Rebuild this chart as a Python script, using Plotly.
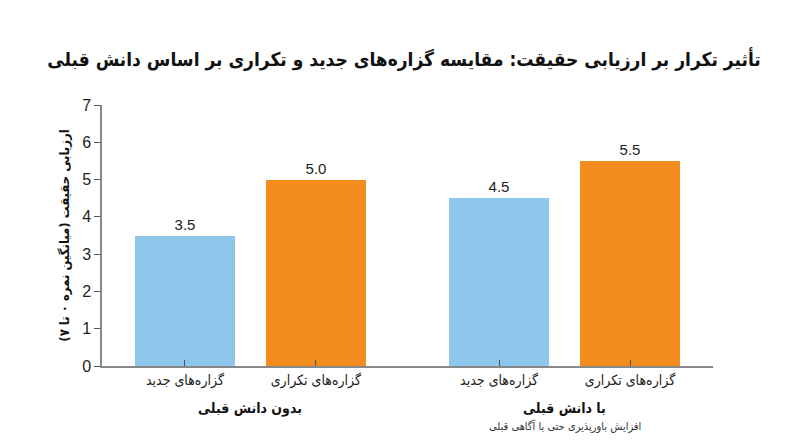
import plotly.graph_objects as go

# data
groups = ['بدون دانش قبلی', 'با دانش قبلی']
group_notes = ['', 'افزایش باورپذیری حتی با آگاهی قبلی']
conditions = ['گزاره‌های جدید', 'گزاره‌های تکراری']
new_vals = [3.5, 4.5]
repeated_vals = [5.0, 5.5]
y_ticks = [0, 1, 2, 3, 4, 5, 6, 7]

colors = ['#8DC8EC', '#F58D1E']
fa_font = 'DejaVu Sans Condensed, DejaVu Sans, sans-serif'
group_step = 2.4  # distance between group starts on the x axis
bar_w = 0.76

fig = go.Figure()
series = [new_vals, repeated_vals]
tickvals, ticktext = [], []
for ci, vals in enumerate(series):
    xs = [gi * group_step + ci for gi in range(len(groups))]
    tickvals += xs
    ticktext += [conditions[ci]] * len(xs)
    fig.add_trace(go.Bar(
        x=xs, y=vals, width=bar_w,
        marker=dict(color=colors[ci], line=dict(width=0)),
        text=vals, texttemplate='%{y:.1f}', textposition='outside',
        textfont=dict(size=15, color='#222', family='Liberation Sans, Arial, sans-serif'),
        cliponaxis=False, showlegend=False, name=conditions[ci],
    ))

for gi, g in enumerate(groups):
    cx = gi * group_step + 0.5
    fig.add_annotation(x=cx, y=0, xref='x', yref='y', yshift=-42, text='<b>' + g + '</b>',
                       showarrow=False, font=dict(size=14, color='#111', family=fa_font))
    if group_notes[gi]:
        fig.add_annotation(x=cx, y=0, xref='x', yref='y', yshift=-60, text=group_notes[gi],
                           showarrow=False, font=dict(size=11, color='#333', family=fa_font))

# the page adds an 8px body margin, so the figure is drawn 8px smaller
fig.update_layout(
    width=792, height=439,
    paper_bgcolor='white', plot_bgcolor='white',
    font=dict(family='Liberation Sans, DejaVu Sans, sans-serif', color='#222'),
    title=dict(text='<b>تأثیر تکرار بر ارزیابی حقیقت: مقایسه گزاره‌های جدید و تکراری بر اساس دانش قبلی</b>',
               x=0.5, xanchor='center', y=0.882, yanchor='middle',
               font=dict(size=19, color='#111', family=fa_font)),
    margin=dict(l=94, r=87, t=97, b=81),
    bargap=0,
)
fig.update_xaxes(
    range=[-0.634, 1 * group_step + 1 + 0.634], tickvals=tickvals, ticktext=ticktext,
    ticks='inside', ticklen=6, tickcolor='#555', showline=True, linecolor='#888', linewidth=1.5,
    showgrid=False, zeroline=False, tickfont=dict(size=14, color='#222', family=fa_font),
)
fig.update_yaxes(
    range=[0, 7], tickvals=y_ticks, ticks='outside', ticklen=6, tickcolor='#555',
    showline=True, linecolor='#888', linewidth=1.5, showgrid=False, zeroline=False,
    tickfont=dict(size=16, color='#222'),
    title=dict(text='<b>ارزیابی حقیقت (میانگین نمره ۰ تا ۷)</b>',
               font=dict(size=13, color='#111', family=fa_font), standoff=10),
)

fig.write_html('out.html')
